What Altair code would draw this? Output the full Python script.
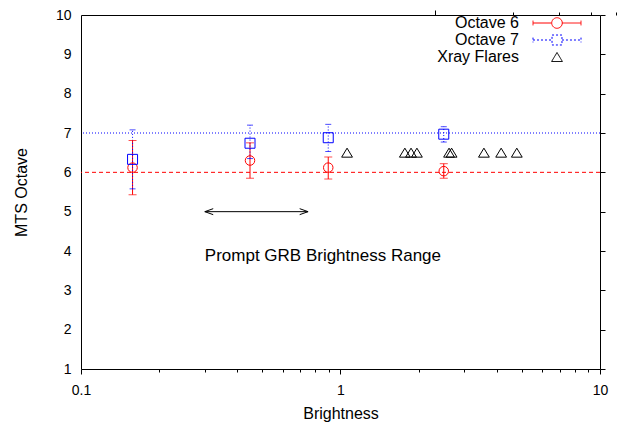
import altair as alt
import pandas as pd

# ---------------- data ----------------
series_names = ["Octave 6", "Octave 7", "Xray Flares"]
series_colors = ["#ff0000", "#0000ff", "#000000"]

oct_x = [0.158, 0.448, 0.897, 2.50]
oct6_y = [6.12, 6.30, 6.12, 6.03]
oct6_lo = [5.43, 5.85, 5.83, 5.85]
oct6_hi = [6.81, 6.75, 6.39, 6.22]
oct7_y = [6.33, 6.74, 6.88, 6.97]
oct7_lo = [5.58, 6.35, 6.53, 6.77]
oct7_hi = [7.08, 7.20, 7.22, 7.16]

flare_x = [1.06, 1.77, 1.87, 1.97, 2.62, 2.68, 3.57, 4.16, 4.78]
flare_y = [6.5, 6.5, 6.5, 6.5, 6.5, 6.5, 6.5, 6.5, 6.5]

level6_y = [6]
level7_y = [7]

range_x = [0.30, 0.75]
range_y = [5, 5]
note_text = ["Prompt GRB Brightness Range"]
note_x = [0.30]
note_y = [3.87]

x_major = [0.1, 1, 10]
x_minor = [0.2, 0.3, 0.4, 0.5, 0.6, 0.7, 0.8, 0.9, 2, 3, 4, 5, 6, 7, 8, 9]
y_ticks = [1, 2, 3, 4, 5, 6, 7, 8, 9, 10]

# ---------------- styling ----------------
FONT = "Liberation Sans"
W, H = 519, 354

TRI = "M0,-0.75L0.9,0.75L-0.9,0.75Z"
LEG6 = ("M-4,0L-0.88,0M0.88,0L4,0M-4,-0.4L-4,0.4M4,-0.4L4,0.4"
        "M0.88,0A0.88,0.88 0 1,1 -0.88,0A0.88,0.88 0 1,1 0.88,0")
LEG7 = ("M-4,0L-0.83,0M0.83,0L4,0M-4,-0.4L-4,0.4M4,-0.4L4,0.4"
        "M-0.83,-0.83L0.83,-0.83L0.83,0.83L-0.83,0.83Z")
HEAD_L = "M1.4,-0.5L0,0L1.4,0.5"
HEAD_R = "M-1.4,-0.5L0,0L-1.4,0.5"

XS = alt.Scale(type="log", domain=[0.1, 10], nice=False)
YS = alt.Scale(domain=[1, 10], nice=False, zero=False)

LABEL_X = ("abs(datum.value-0.1)<1e-9 ? '0.1' : abs(datum.value-1)<1e-9 ? '1' : "
           "abs(datum.value-10)<1e-9 ? '10' : ''")

# labels-only axes
x_bottom = alt.Axis(orient="bottom", values=x_major, labelExpr=LABEL_X,
                    labelFlush=False, labelOverlap=False, ticks=False,
                    labelPadding=14, title="Brightness", titlePadding=8,
                    grid=False, domain=False)
y_left = alt.Axis(orient="left", values=y_ticks, ticks=False, labelPadding=10,
                  labelFlush=False, labelOverlap=False,
                  title="MTS Octave", titlePadding=26, grid=False, domain=False)
# inward tick axes (opposite orientation, moved to the edge with position)
x_in_bot_major = alt.Axis(orient="top", position=H, values=x_major, labels=False,
                          tickSize=5, title=None, grid=False, domain=False)
x_in_bot_minor = alt.Axis(orient="top", position=H, values=x_minor, labels=False,
                          tickSize=3, title=None, grid=False, domain=False)
x_in_top_major = alt.Axis(orient="bottom", position=0, values=x_major, labels=False,
                          tickSize=5, title=None, grid=False, domain=False)
x_in_top_minor = alt.Axis(orient="bottom", position=0, values=x_minor, labels=False,
                          tickSize=3, title=None, grid=False, domain=False)
y_in_left = alt.Axis(orient="right", position=0, values=y_ticks, labels=False,
                     tickSize=5, title=None, grid=False, domain=False)
y_in_right = alt.Axis(orient="left", position=W, values=y_ticks, labels=False,
                      tickSize=5, title=None, grid=False, domain=False)

o6 = pd.DataFrame({"x": oct_x, "y": oct6_y, "lo": oct6_lo, "hi": oct6_hi})
o7 = pd.DataFrame({"x": oct_x, "y": oct7_y, "lo": oct7_lo, "hi": oct7_hi})
fl = pd.DataFrame({"x": flare_x, "y": flare_y})
l6 = pd.DataFrame({"y": level6_y})
l7 = pd.DataFrame({"y": level7_y})
rng = pd.DataFrame({"x": range_x, "y": range_y})
note = pd.DataFrame({"x": note_x, "y": note_y, "t": note_text})
leg = pd.DataFrame({"series": series_names})

RED, BLUE, BLACK = series_colors


def X(field, axis=None):
    return alt.X(field, scale=XS, axis=axis)


def Y(field, axis=None):
    return alt.Y(field, scale=YS, axis=axis)


hl6 = alt.Chart(l6).mark_rule(color=RED, strokeWidth=1, strokeDash=[4, 3]).encode(
    y=Y("y:Q"))
hl7 = alt.Chart(l7).mark_rule(color=BLUE, strokeWidth=1, strokeDash=[1, 2]).encode(
    y=Y("y:Q"))

err6 = alt.Chart(o6).mark_rule(color=RED, strokeWidth=1).encode(
    x=X("x:Q", x_bottom), y=Y("lo:Q", y_left), y2="hi:Q")
err7 = alt.Chart(o7).mark_rule(color=BLUE, strokeWidth=1, strokeDash=[1, 2]).encode(
    x=X("x:Q", x_in_bot_major), y=Y("lo:Q", y_in_left), y2="hi:Q")

cap6a = alt.Chart(o6).mark_tick(color=RED, orient="horizontal", size=8, thickness=1).encode(
    x=X("x:Q", x_in_bot_minor), y=Y("lo:Q", y_in_right))
cap6b = alt.Chart(o6).mark_tick(color=RED, orient="horizontal", size=8, thickness=1).encode(
    x=X("x:Q", x_in_top_major), y=Y("hi:Q"))
cap7a = alt.Chart(o7).mark_tick(color=BLUE, orient="horizontal", size=6, thickness=1,
                                strokeDash=[1, 2]).encode(
    x=X("x:Q", x_in_top_minor), y=Y("lo:Q"))
cap7b = alt.Chart(o7).mark_tick(color=BLUE, orient="horizontal", size=6, thickness=1,
                                strokeDash=[1, 2]).encode(
    x=X("x:Q"), y=Y("hi:Q"))

pt6 = alt.Chart(o6).mark_point(shape="circle", size=90, filled=False, color=RED,
                               strokeWidth=1, opacity=1).encode(x=X("x:Q"), y=Y("y:Q"))
pt7 = alt.Chart(o7).mark_point(shape="square", size=100, filled=False, color=BLUE,
                               strokeWidth=1, opacity=1).encode(x=X("x:Q"), y=Y("y:Q"))
ptf = alt.Chart(fl).mark_point(shape=TRI, size=144, filled=False, color=BLACK,
                               strokeWidth=1, opacity=1).encode(x=X("x:Q"), y=Y("y:Q"))

arrow_line = alt.Chart(rng).mark_line(color=BLACK, strokeWidth=1).encode(
    x=X("x:Q"), y=Y("y:Q"))
head_l = alt.Chart(rng).transform_filter("datum.x < 0.5").mark_point(
    shape=HEAD_L, size=144, filled=False, color=BLACK, strokeWidth=1, opacity=1).encode(
    x=X("x:Q"), y=Y("y:Q"))
head_r = alt.Chart(rng).transform_filter("datum.x > 0.5").mark_point(
    shape=HEAD_R, size=144, filled=False, color=BLACK, strokeWidth=1, opacity=1).encode(
    x=X("x:Q"), y=Y("y:Q"))

note_layer = alt.Chart(note).mark_text(align="left", baseline="middle", fontSize=17,
                                       font=FONT, color=BLACK).encode(
    x=X("x:Q"), y=Y("y:Q"), text="t:N")

legend_def = alt.Legend(orient="none", legendX=468, legendY=0, title=None,
                        labelAlign="right", labelOffset=alt.ExprRef("-46"),
                        labelFontSize=16,
                        labelFont=FONT, labelColor=BLACK, symbolSize=144,
                        symbolStrokeWidth=1, rowPadding=1, padding=0,
                        symbolFillColor="transparent", symbolOpacity=1)
legend_layer = alt.Chart(leg).transform_filter("false").mark_point(
    filled=False, size=144, strokeWidth=1, opacity=1).encode(
    shape=alt.Shape("series:N", scale=alt.Scale(domain=series_names,
                                                range=[LEG6, LEG7, TRI]),
                    legend=legend_def),
    color=alt.Color("series:N", scale=alt.Scale(domain=series_names, range=series_colors),
                    legend=legend_def),
    strokeDash=alt.StrokeDash("series:N",
                              scale=alt.Scale(domain=series_names,
                                              range=[[1, 0], [2, 2], [1, 0]]),
                              legend=legend_def),
)

chart = alt.layer(
    hl6, hl7, err6, err7, cap6a, cap6b, cap7a, cap7b,
    arrow_line, head_l, head_r, pt6, pt7, ptf, note_layer, legend_layer,
).resolve_axis(x="independent", y="independent").properties(
    width=W, height=H,
    padding={"left": 73, "top": 7, "right": 26, "bottom": 56},
    autosize=alt.AutoSizeParams(type="none"),
).configure_view(stroke=BLACK, strokeWidth=1).configure_axis(
    labelFont=FONT, labelFontSize=14, labelColor=BLACK,
    titleFont=FONT, titleFontSize=16, titleColor=BLACK, titleFontWeight="normal",
    tickColor=BLACK, tickWidth=1,
)

chart.save("out.html", embed_options={"renderer": "svg", "actions": False})
